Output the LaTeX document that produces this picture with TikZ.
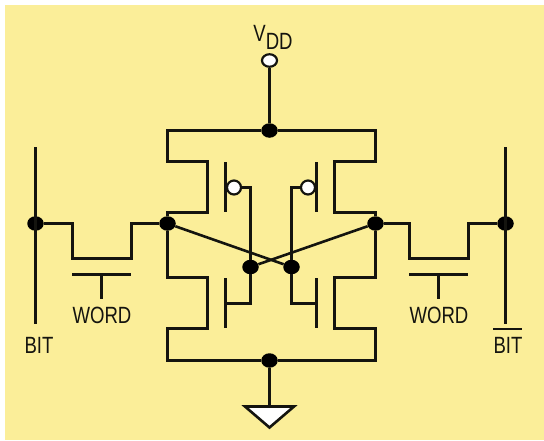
\documentclass[tikz,border=0pt]{standalone}
\usepackage{fontspec}
\setmainfont{Liberation Sans}
\usepackage{xcolor}
\usetikzlibrary{shapes.geometric}
\definecolor{cellyellow}{RGB}{251,238,153}
\definecolor{wiregrey}{RGB}{20,20,15}
\tikzset{%
    wire/.style={line width=2.6pt, color=wiregrey, line join=miter},
    junction/.style={ellipse, fill=black, draw=none, minimum width=16.5pt, minimum height=14.5pt, inner sep=0pt},
    bubble/.style={circle, fill=white, draw=wiregrey, line width=2.2pt, minimum size=14pt, inner sep=0pt},
    pinlabel/.style={font=\fontsize{23.5}{24}\selectfont, text=wiregrey, xscale=0.79, transform shape, inner sep=0pt}
}
\begin{document}
\begin{tikzpicture}[x=1pt,y=-1pt]
    \useasboundingbox (0,0) rectangle (544,440);
    \fill[white] (0,0) rectangle (544,440);
    \fill[cellyellow] (5,5) rectangle (544,440);
    % supply and ground
    \node[bubble, ellipse, minimum width=15pt, minimum height=12.5pt] (vdd) at (269.5,60.5) {};
    \node[junction] (top) at (269.5,130.5) {};
    \node[junction] (bot) at (269.5,360.5) {};
    \coordinate (gnd) at (269.5,406.5);
    \draw[wire] (vdd) -- (top);
    \draw[wire] (bot) -- (gnd);
    \draw[wire, fill=white] (245,406.5) -- (294,406.5) -- (269.5,427.5) -- cycle;
    % storage nodes
    \node[junction] (nl) at (167.5,223.5) {};
    \node[junction] (nr) at (375.5,223.5) {};
    \node[junction] (gl) at (250.5,267) {};
    \node[junction] (gr) at (291.5,267) {};
    \draw[wire] (nl) -- (gr);
    \draw[wire] (nr) -- (gl);
    % drains, upper and lower
    \draw[wire] (nl) -- (167.5,212.5) -- (207.5,212.5) -- (207.5,161.5) -- (167.5,161.5) -- (167.5,130.5) -- (top);
    \draw[wire] (nr) -- (375.5,212.5) -- (334.5,212.5) -- (334.5,161.5) -- (375.5,161.5) -- (375.5,130.5) -- (top);
    \draw[wire] (nl) -- (167.5,277.5) -- (207.5,277.5) -- (207.5,328.5) -- (167.5,328.5) -- (167.5,360.5) -- (bot);
    \draw[wire] (nr) -- (375.5,277.5) -- (334.5,277.5) -- (334.5,328.5) -- (375.5,328.5) -- (375.5,360.5) -- (bot);
    % gates of the four inner transistors
    \foreach \x in {225.5,316.5}
    {
    \draw[wire] (\x,162) -- (\x,212);
    \draw[wire] (\x,278) -- (\x,328);
    }
    \node[bubble] (pl) at (234,187.5) {};
    \node[bubble] (pr) at (308,187.5) {};
    \draw[wire] (pl) -- (250.5,187.5) -- (gl);
    \draw[wire] (pr) -- (291.5,187.5) -- (gr);
    \draw[wire] (225.5,303.5) -| (gl);
    \draw[wire] (316.5,303.5) -| (gr);
    % bit lines
    \node[junction] (bl) at (35.5,223.5) {};
    \node[junction] (br) at (505.5,223.5) {};
    \draw[wire] (35.5,147) -- (35.5,324);
    \draw[wire] (505.5,147) -- (505.5,324);
    % pass transistors
    \draw[wire] (bl) -- (72.5,223.5) -- (72.5,258.5) -- (131.5,258.5) -- (131.5,223.5) -- (nl);
    \draw[wire] (nr) -- (409.5,223.5) -- (409.5,258.5) -- (468.5,258.5) -- (468.5,223.5) -- (br);
    \draw[wire] (72,274.5) -- (131,274.5);
    \draw[wire] (409,274.5) -- (468,274.5);
    \draw[wire] (101.5,274.5) -- (101.5,299);
    \draw[wire] (438.5,274.5) -- (438.5,299);
    % labels
    \node[pinlabel] (vddlabel) at (273,37) {V\raisebox{-8pt}{DD}};
    \node[pinlabel] (wordl) at (102,315.5) {WORD};
    \node[pinlabel] (wordr) at (439,315.5) {WORD};
    \node[pinlabel] (bitl) at (39,345) {BIT};
    \node[pinlabel] (bitr) at (508,345) {BIT};
    \draw[wiregrey, line width=1.2pt] (493,329) -- (522,329);
\end{tikzpicture}
\end{document}
